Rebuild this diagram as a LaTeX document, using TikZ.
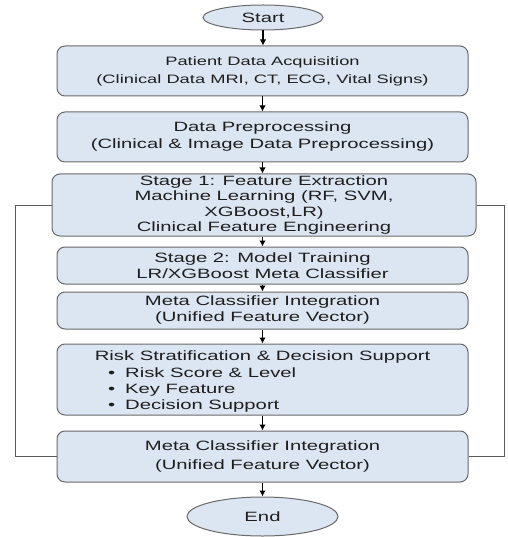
\documentclass[tikz,border=0pt]{standalone}
\usepackage{fontspec}
\setmainfont{Liberation Sans}[FakeStretch=1.5]
\usetikzlibrary{arrows.meta,shapes.geometric}
\definecolor{boxfill}{RGB}{220,230,242}
\definecolor{boxdraw}{RGB}{105,105,105}
\definecolor{loopline}{RGB}{90,90,90}
\definecolor{txt}{RGB}{30,30,30}
\begin{document}
\begin{tikzpicture}[x=1pt,y=-1pt,
  box/.style={draw=boxdraw, fill=boxfill, line width=1pt, rounded corners=8pt,
    minimum width=411pt, inner sep=0pt, align=center, text=txt,
    font=\fontsize{13.5}{16}\selectfont},
  term/.style={draw=boxdraw, fill=boxfill, ellipse, line width=1pt, inner sep=0pt,
    text=txt, font=\fontsize{13.5}{16}\selectfont},
  lbl/.style={inner sep=0pt, text=txt, font=\fontsize{13.5}{16}\selectfont},
  arr/.style={-{Latex[length=6pt,width=6.5pt]}, line width=1.3pt, black},
  loopln/.style={draw=loopline, line width=1pt}]
\useasboundingbox (0,0) rectangle (507,537);

\node[term, minimum width=120pt, minimum height=25pt] (start) at (263,17.5) {Start};
\node[box, minimum height=50pt, font=\fontsize{12.2}{18}\selectfont] (b1) at (262.5,71)
  {Patient Data Acquisition\\(Clinical Data MRI, CT, ECG, Vital Signs)};
\node[box, minimum height=50pt, font=\fontsize{13.5}{17}\selectfont] (b2) at (262.5,137)
  {Data Preprocessing\\(Clinical \& Image Data Preprocessing)};
\node[box, minimum width=424pt, minimum height=62pt, font=\fontsize{13.5}{15.3}\selectfont] (b3) at (264,205)
  {Stage 1: Feature Extraction\\Machine Learning (RF, SVM,\\XGBoost,LR)\\Clinical Feature Engineering};
\node[box, minimum height=37pt] (b4) at (262.5,265.5)
  {Stage 2: Model Training\\LR/XGBoost Meta Classifier};
\node[box, minimum height=37pt] (b5) at (262.5,310.5)
  {Meta Classifier Integration\\(Unified Feature Vector)};
\node[box, minimum height=71pt] (b6) at (262.5,379.5) {};
\node[lbl] (b6t) at (262.5,357) {Risk Stratification \& Decision Support};
\node[lbl, anchor=west, align=left, font=\fontsize{13.5}{15.8}\selectfont] (b6l) at (108,390)
  {\makebox[17pt][l]{•}Risk Score \& Level\\\makebox[17pt][l]{•}Key Feature\\\makebox[17pt][l]{•}Decision Support};
\node[box, minimum height=51pt, font=\fontsize{13.5}{19}\selectfont] (b7) at (262.5,456.5)
  {Meta Classifier Integration\\(Unified Feature Vector)};
\node[term, minimum width=151pt, minimum height=39pt] (end) at (262.5,516.5) {End};

\draw[arr] (start.south) -- (start.south |- b1.north);
\draw[arr] (b1) -- (b2);
\draw[arr] (b2.south) -- (b2.south |- b3.north);
\draw[arr] (b3.south -| b4.north) -- (b4.north);
\draw[arr] (b4) -- (b5);
\draw[arr] (b5) -- (b6);
\draw[arr] (b6) -- (b7);
\draw[arr] (b7) -- (end);

\coordinate (lt) at (15,205);
\coordinate (lb) at (15,456.5);
\coordinate (rt) at (504,205);
\coordinate (rb) at (504,456.5);
\draw[loopln] (b3.west) -- (lt) -- (lb) -- (b7.west);
\draw[loopln] (b3.east) -- (rt) -- (rb) -- (b7.east);
\end{tikzpicture}
\end{document}
